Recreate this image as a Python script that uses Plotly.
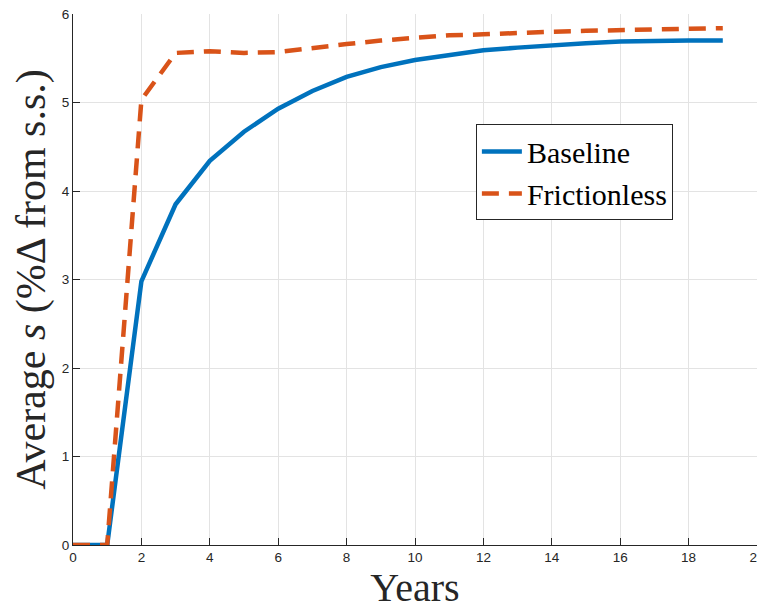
import plotly.graph_objects as go

# years after the shock
years = list(range(0, 20))

# average s, percent deviation from steady state
baseline = [0, 0, 2.98, 3.85, 4.34, 4.67, 4.93, 5.13, 5.29, 5.40,
            5.48, 5.54, 5.59, 5.62, 5.65, 5.67, 5.69, 5.70, 5.70, 5.70]
frictionless = [0, 0, 5.03, 5.56, 5.58, 5.56, 5.57, 5.62, 5.66, 5.70,
                5.73, 5.76, 5.77, 5.79, 5.80, 5.81, 5.82, 5.83, 5.84, 5.84]

x_ticks = list(range(0, 21, 2))
y_ticks = list(range(0, 7))

serif = "Liberation Serif, DejaVu Serif, serif"
sans = "Liberation Sans, Arial, sans-serif"

fig = go.Figure()
fig.add_trace(go.Scatter(
    x=years, y=baseline, mode="lines", name="Baseline",
    line=dict(color="#0072BD", width=4.5),
    cliponaxis=False,
))
fig.add_trace(go.Scatter(
    x=years, y=frictionless, mode="lines", name="Frictionless",
    line=dict(color="#D95319", width=4.5, dash="17px,10px"),
    cliponaxis=False,
))

axis_common = dict(
    showgrid=True, gridcolor="#e3e3e3", gridwidth=1,
    zeroline=False, showline=True, linecolor="#262626", linewidth=1,
    ticks="inside", ticklen=7, tickcolor="#262626",
    tickfont=dict(family=sans, size=13.5, color="#262626"),
    ticklabeloverflow="allow",
    mirror=False, automargin=False,
)

fig.update_xaxes(
    range=[0, 20], tickvals=x_ticks,
    title=dict(text="Years", font=dict(family=serif, size=40, color="#262626"), standoff=4),
    **axis_common,
)
fig.update_yaxes(
    range=[0, 6], tickvals=y_ticks,
    title=dict(text="Average <i>s</i> (%Δ from s.s.)",
               font=dict(family=serif, size=42, color="#262626"), standoff=16),
    **axis_common,
)

# the page body has an 8px margin, so the figure is sized to sit inside it
fig.update_layout(
    width=757, height=603,
    margin=dict(l=65, r=8, t=6, b=66),
    plot_bgcolor="white", paper_bgcolor="white",
    showlegend=True,
    legend=dict(
        x=0.589, y=0.792, xanchor="left", yanchor="top",
        bgcolor="white", bordercolor="#262626", borderwidth=1,
        font=dict(family=serif, size=30, color="black"),
        itemwidth=40, tracegroupgap=0,
    ),
)

fig.write_html("out.html")
